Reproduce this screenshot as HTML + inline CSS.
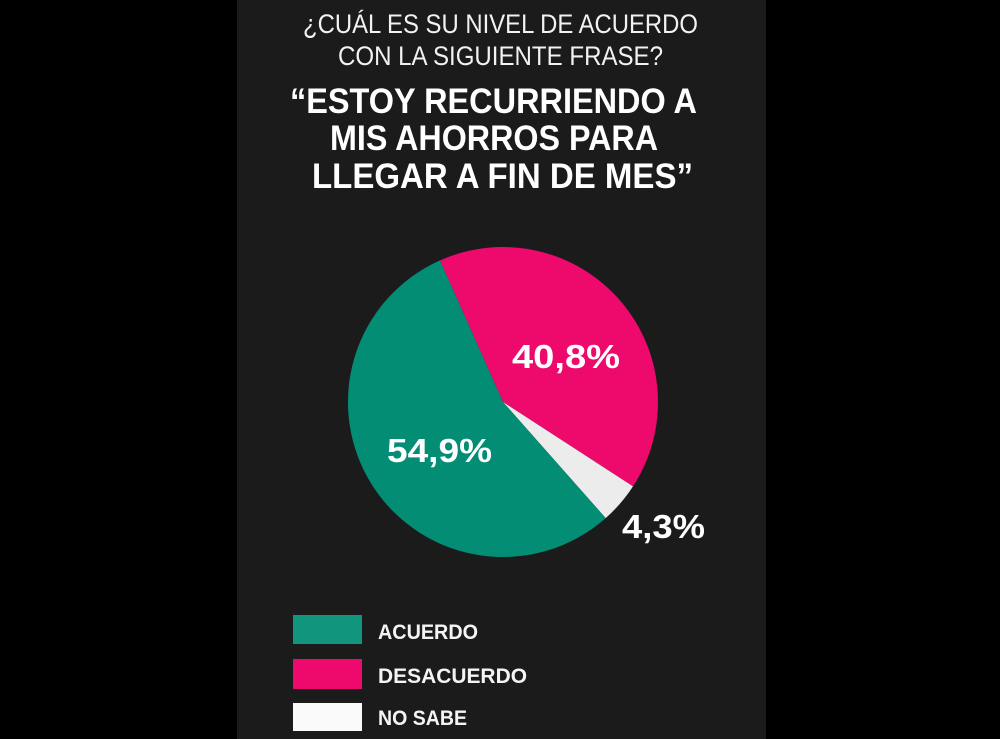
<!DOCTYPE html>
<html><head><meta charset="utf-8"><style>
html,body{margin:0;padding:0;background:#000;}
svg{display:block}
</style></head><body>
<svg width="1000" height="739" viewBox="0 0 1000 739" xmlns="http://www.w3.org/2000/svg">
<rect x="0" y="0" width="1000" height="739" fill="#000"/>
<rect x="237" y="0" width="529" height="739" fill="#1c1b1b"/>
<g font-family="Liberation Sans, sans-serif" fill="#f2f2f2" text-anchor="start">
<text x="303" y="33" font-size="27" textLength="395" lengthAdjust="spacingAndGlyphs">¿CUÁL ES SU NIVEL DE ACUERDO</text>
<text x="338" y="65" font-size="27" textLength="325" lengthAdjust="spacingAndGlyphs">CON LA SIGUIENTE FRASE?</text>
<g font-weight="bold" fill="#fff" font-size="35">
<text x="290" y="113" textLength="407" lengthAdjust="spacingAndGlyphs">“ESTOY RECURRIENDO A</text>
<text x="330" y="150" textLength="328" lengthAdjust="spacingAndGlyphs">MIS AHORROS PARA</text>
<text x="312" y="188" textLength="381" lengthAdjust="spacingAndGlyphs">LLEGAR A FIN DE MES”</text>
</g>
</g>
<path d="M503,402 L440,260.4 A155,155 0 0 1 633,486.4 Z" fill="#ee0a6c"/>
<path d="M503,402 L633,486.4 A155,155 0 0 1 605.7,518.1 Z" fill="#ececec"/>
<path d="M503,402 L605.7,518.1 A155,155 0 1 1 440,260.4 Z" fill="#028d74"/>
<g font-family="Liberation Sans, sans-serif" font-weight="bold" fill="#fff" font-size="33">
<text x="512" y="368" textLength="108" lengthAdjust="spacingAndGlyphs">40,8%</text>
<text x="387" y="462" textLength="105" lengthAdjust="spacingAndGlyphs">54,9%</text>
<text x="622" y="538" textLength="83" lengthAdjust="spacingAndGlyphs">4,3%</text>
</g>
<rect x="293" y="615" width="69" height="29" fill="#11957c"/>
<rect x="293" y="659" width="69" height="30" fill="#ee0a6c"/>
<rect x="293" y="703" width="69" height="28" fill="#fafafa"/>
<g font-family="Liberation Sans, sans-serif" font-weight="bold" fill="#f4f4f4" font-size="21">
<text x="378" y="639" textLength="100" lengthAdjust="spacingAndGlyphs">ACUERDO</text>
<text x="378" y="683" textLength="149" lengthAdjust="spacingAndGlyphs">DESACUERDO</text>
<text x="378" y="725" textLength="89" lengthAdjust="spacingAndGlyphs">NO SABE</text>
</g>
</svg>
</body></html>
